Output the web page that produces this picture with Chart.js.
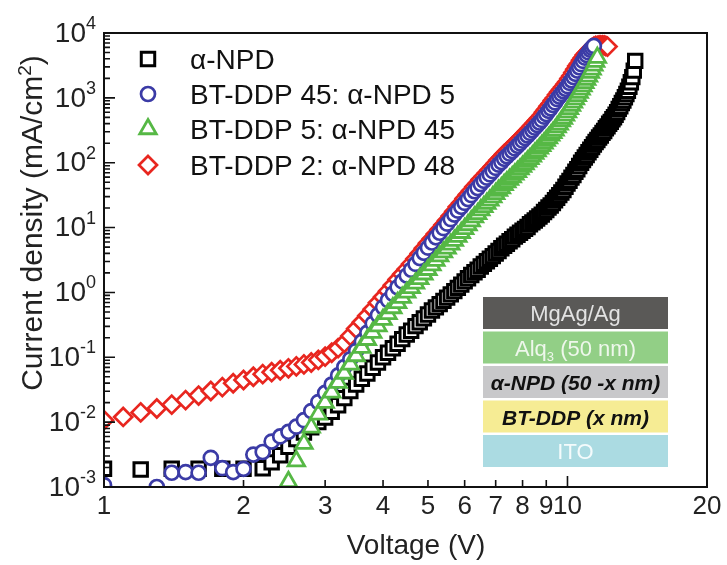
<!DOCTYPE html>
<html>
<head>
<meta charset="utf-8">
<script src="https://cdn.jsdelivr.net/npm/chart.js@4.4.1/dist/chart.umd.min.js"></script>
<style>
  html, body { margin: 0; padding: 0; background: #fff; }
  #jv { display: block; }
</style>
</head>
<body>
<canvas id="jv" width="727" height="565"></canvas>
<script>
// J-V curves on log-log axes. Current density stored as log10(J / mA cm^-2),
// one entry per voltage step, null where a sample is missing.
var seriesLabels = ['α-NPD', 'BT-DDP 45: α-NPD 5', 'BT-DDP 5: α-NPD 45', 'BT-DDP 2: α-NPD 48'];

var voltGrid = [
  1.0, 1.1, 1.2, 1.3, 1.4, 1.5, 1.6, 1.7, 1.8, 1.9,
  2.0, 2.1, 2.2, 2.3, 2.4, 2.5, 2.6, 2.7, 2.8, 2.9,
  3.0, 3.1, 3.2, 3.3, 3.4, 3.5, 3.6, 3.7, 3.8, 3.9,
  4.0, 4.1, 4.2, 4.3, 4.4, 4.5, 4.6, 4.7, 4.8, 4.9,
  5.0, 5.1, 5.2, 5.3, 5.4, 5.5, 5.6, 5.7, 5.8, 5.9,
  6.0, 6.1, 6.2, 6.3, 6.4, 6.5, 6.6, 6.7, 6.8, 6.9,
  7.0, 7.1, 7.2, 7.3, 7.4, 7.5, 7.6, 7.7, 7.8, 7.9,
  8.0, 8.1, 8.2, 8.3, 8.4, 8.5, 8.6, 8.7, 8.8, 8.9,
  9.0, 9.1, 9.2, 9.3, 9.4, 9.5, 9.6, 9.7, 9.8, 9.9,
  10.0, 10.1, 10.2, 10.3, 10.4, 10.5, 10.6, 10.7, 10.8, 10.9,
  11.0, 11.1, 11.2, 11.3, 11.4, 11.5, 11.6, 11.7, 11.8, 11.9,
  12.0, 12.1, 12.2, 12.3, 12.4, 12.5, 12.6, 12.7, 12.8, 12.9,
  13.0, 13.1, 13.2, 13.3, 13.4, 13.5, 13.6, 13.7, 13.8, 13.9,
  14.0
];

var npdLogJ = [
  -2.72, null, -2.73, null, -2.72, null, -2.72, null, -2.72, null,
  -2.72, null, -2.71, -2.62, -2.51, -2.38, -2.26, -2.16, -2.08, -2.00,
  -1.93, -1.84, -1.74, -1.63, -1.52, -1.42, -1.33, -1.25, -1.16, -1.08,
  -1.00, -0.93, -0.86, -0.79, -0.72, -0.65, -0.59, -0.52, -0.46, -0.40,
  -0.34, -0.28, -0.23, -0.18, -0.13, -0.08, -0.03, 0.02, 0.07, 0.12,
  0.17, 0.22, 0.27, 0.31, 0.35, 0.40, 0.44, 0.48, 0.52, 0.56,
  0.60, 0.64, 0.68, 0.72, 0.75, 0.79, 0.82, 0.86, 0.89, 0.92,
  0.95, 0.98, 1.01, 1.05, 1.08, 1.11, 1.14, 1.17, 1.20, 1.24,
  1.27, 1.31, 1.34, 1.38, 1.42, 1.46, 1.50, 1.54, 1.58, 1.63,
  1.68, 1.72, 1.77, 1.81, 1.86, 1.90, 1.95, 2.00, 2.04, 2.08,
  2.12, 2.16, 2.20, 2.24, 2.28, 2.32, 2.35, 2.39, 2.42, 2.46,
  2.49, 2.53, 2.56, 2.60, 2.63, 2.67, 2.70, 2.74, 2.78, 2.83,
  2.87, 2.92, 2.96, 3.01, 3.06, 3.11, 3.17, 3.24, 3.32, 3.42,
  3.57
];

var bt45LogJ = [
  -2.97, -3.20, -3.15, -3.00, -2.78, -2.77, -2.78, -2.55, -2.71, -2.77,
  -2.72, -2.50, -2.46, -2.30, -2.22, -2.15, -2.07, -1.97, -1.83, -1.69,
  -1.55, -1.42, -1.28, -1.15, -1.03, -0.90, -0.76, -0.62, -0.48, -0.35,
  -0.23, -0.12, -0.02, 0.08, 0.17, 0.26, 0.35, 0.44, 0.53, 0.61,
  0.69, 0.77, 0.85, 0.92, 0.99, 1.06, 1.13, 1.20, 1.26, 1.32,
  1.38, 1.44, 1.50, 1.56, 1.61, 1.67, 1.72, 1.77, 1.82, 1.87,
  1.92, 1.97, 2.01, 2.06, 2.10, 2.14, 2.18, 2.22, 2.26, 2.30,
  2.34, 2.38, 2.42, 2.46, 2.50, 2.54, 2.58, 2.62, 2.66, 2.71,
  2.75, 2.80, 2.84, 2.89, 2.93, 2.98, 3.02, 3.06, 3.10, 3.14,
  3.18, 3.23, 3.27, 3.32, 3.37, 3.42, 3.47, 3.52, 3.57, 3.62,
  3.66, 3.70, 3.74, 3.77, 3.80
];

var bt5LogJ = [
  null, null, null, null, null, null, null, null, null, null,
  null, null, null, null, null, -2.92, -2.60, -2.33, -2.08, -1.88,
  -1.70, -1.54, -1.39, -1.25, -1.11, -0.98, -0.85, -0.73, -0.62, -0.52,
  -0.42, -0.33, -0.24, -0.16, -0.08, 0.00, 0.07, 0.14, 0.21, 0.28,
  0.35, 0.42, 0.49, 0.56, 0.62, 0.68, 0.74, 0.80, 0.86, 0.92,
  0.98, 1.04, 1.10, 1.16, 1.21, 1.27, 1.32, 1.37, 1.42, 1.47,
  1.52, 1.57, 1.61, 1.66, 1.70, 1.74, 1.78, 1.82, 1.86, 1.90,
  1.94, 1.98, 2.02, 2.06, 2.10, 2.14, 2.18, 2.22, 2.26, 2.30,
  2.34, 2.38, 2.42, 2.46, 2.50, 2.55, 2.59, 2.64, 2.68, 2.73,
  2.78, 2.83, 2.88, 2.93, 2.98, 3.03, 3.08, 3.13, 3.18, 3.23,
  3.28, 3.33, 3.39, 3.44, 3.50, 3.56, 3.62
];

var bt2LogJ = [
  -1.97, -1.92, -1.85, -1.79, -1.73, -1.66, -1.59, -1.52, -1.46, -1.40,
  -1.35, -1.30, -1.26, -1.23, -1.20, -1.17, -1.14, -1.11, -1.08, -1.04,
  -0.99, -0.93, -0.86, -0.78, -0.67, -0.56, -0.46, -0.36, -0.26, -0.16,
  -0.07, 0.02, 0.11, 0.20, 0.28, 0.36, 0.44, 0.52, 0.60, 0.68,
  0.76, 0.83, 0.90, 0.97, 1.04, 1.11, 1.18, 1.25, 1.32, 1.38,
  1.45, 1.51, 1.57, 1.63, 1.68, 1.74, 1.79, 1.84, 1.89, 1.94,
  1.99, 2.04, 2.08, 2.13, 2.17, 2.21, 2.25, 2.29, 2.33, 2.37,
  2.41, 2.45, 2.49, 2.53, 2.57, 2.61, 2.65, 2.69, 2.73, 2.78,
  2.82, 2.87, 2.91, 2.96, 3.00, 3.05, 3.09, 3.13, 3.17, 3.21,
  3.25, 3.30, 3.34, 3.39, 3.44, 3.49, 3.53, 3.58, 3.62, 3.66,
  3.69, 3.72, 3.75, 3.77, 3.79, 3.80, 3.80, 3.81, 3.81, 3.81,
  3.81, 3.80, 3.79
];

// axis ticks
var voltTicks = [1, 2, 3, 4, 5, 6, 7, 8, 9, 10, 20];
var voltTickLabels = ['1', '2', '3', '4', '5', '6', '7', '8', '9', '10', '20'];
var decadeExps = [-3, -2, -1, 0, 1, 2, 3, 4];

var FONT = "'Liberation Sans', Arial, Helvetica, sans-serif";

// device stack drawn in the lower right corner
var stackLayers = [
  { parts: [['MgAg/Ag', 22, 0]], bg: '#5a5957', fg: '#e2e2e2', style: '' },
  { parts: [['Alq', 22, 0], ['3', 13, 5], [' (50 nm)', 22, 0]], bg: '#92cf86', fg: '#eef7eb', style: '' },
  { parts: [['α-NPD (50 -x nm)', 21, 0]], bg: '#c8c8ca', fg: '#111', style: 'italic bold ' },
  { parts: [['BT-DDP (x nm)', 21, 0]], bg: '#f6ec94', fg: '#111', style: 'italic bold ' },
  { parts: [['ITO', 22, 0]], bg: '#abdbe2', fg: '#f4fbfc', style: '' }
];

function toPoints(logJ) {
  var pts = [];
  var n = Math.min(voltGrid.length, logJ.length);
  for (var i = 0; i < n; i++) {
    if (logJ[i] === null) continue;
    pts.push({ x: voltGrid[i], y: Math.pow(10, logJ[i]) });
  }
  return pts;
}

function markerSet(label, data, style, radius, color, width, order) {
  return {
    label: label,
    data: data,
    showLine: false,
    pointStyle: style,
    pointRadius: radius,
    pointHoverRadius: radius,
    pointBorderWidth: width,
    pointBorderColor: color,
    pointBackgroundColor: '#fff',
    borderColor: color,
    backgroundColor: '#fff',
    order: order
  };
}

var datasets = [
  markerSet(seriesLabels[0], toPoints(npdLogJ), 'rect', 9.5, '#000000', 3, 3),
  markerSet(seriesLabels[1], toPoints(bt45LogJ), 'circle', 7, '#3b3ba6', 2.7, 1),
  markerSet(seriesLabels[2], toPoints(bt5LogJ), 'triangle', 9.5, '#56b845', 2.8, 0),
  markerSet(seriesLabels[3], toPoints(bt2LogJ), 'rectRot', 9, '#e8261f', 2.7, 2)
];

function drawMarker(ctx, style, x, y, r) {
  ctx.beginPath();
  if (style === 'rect') {
    var s = r * Math.SQRT1_2;
    ctx.rect(x - s, y - s, 2 * s, 2 * s);
  } else if (style === 'circle') {
    ctx.arc(x, y, r, 0, Math.PI * 2);
  } else if (style === 'triangle') {
    ctx.moveTo(x, y - r);
    ctx.lineTo(x + r * Math.sin(Math.PI * 2 / 3), y - r * Math.cos(Math.PI * 2 / 3));
    ctx.lineTo(x + r * Math.sin(Math.PI * 4 / 3), y - r * Math.cos(Math.PI * 4 / 3));
    ctx.closePath();
  } else {
    ctx.moveTo(x, y - r);
    ctx.lineTo(x + r, y);
    ctx.lineTo(x, y + r);
    ctx.lineTo(x - r, y);
    ctx.closePath();
  }
  ctx.fill();
  ctx.stroke();
}

var framePlugin = {
  id: 'frame',
  afterDatasetsDraw: function(chart) {
    var ctx = chart.ctx;
    var area = chart.chartArea;
    var xs = chart.scales.x;
    var ys = chart.scales.y;
    ctx.save();

    // box
    ctx.strokeStyle = '#111';
    ctx.lineWidth = 2;
    ctx.strokeRect(area.left, area.top, area.right - area.left, area.bottom - area.top);

    // inward ticks on the voltage axis
    ctx.lineWidth = 1.6;
    ctx.beginPath();
    voltTicks.forEach(function(v) {
      if (v === 1 || v === 20) return;
      var px = xs.getPixelForValue(v);
      var len = v === 10 ? 11 : 7;
      ctx.moveTo(px, area.bottom);
      ctx.lineTo(px, area.bottom - len);
    });
    // inward ticks on the current axis, decades and minors
    decadeExps.forEach(function(e) {
      var py = ys.getPixelForValue(Math.pow(10, e));
      ctx.moveTo(area.left, py);
      ctx.lineTo(area.left + 11, py);
      if (e < 4) {
        for (var m = 2; m <= 9; m++) {
          var pm = ys.getPixelForValue(m * Math.pow(10, e));
          ctx.moveTo(area.left, pm);
          ctx.lineTo(area.left + 6, pm);
        }
      }
    });
    ctx.stroke();

    // decade labels 10^n
    ctx.fillStyle = '#222';
    ctx.textBaseline = 'middle';
    decadeExps.forEach(function(e) {
      var py = ys.getPixelForValue(Math.pow(10, e));
      var expText = String(e);
      ctx.font = '18px ' + FONT;
      var ew = ctx.measureText(expText).width;
      var right = 96;
      ctx.textAlign = 'left';
      ctx.fillText(expText, right - ew, py - 9);
      ctx.font = '28px ' + FONT;
      ctx.textAlign = 'right';
      ctx.fillText('10', right - ew, py + 1);
    });

    // axis titles
    ctx.textBaseline = 'alphabetic';
    ctx.textAlign = 'center';
    ctx.font = '28px ' + FONT;
    ctx.fillText('Voltage (V)', 416, 554);

    ctx.save();
    ctx.translate(42, 223);
    ctx.rotate(-Math.PI / 2);
    ctx.textAlign = 'left';
    ctx.font = '30px ' + FONT;
    var t1 = 'Current density (mA/cm';
    var w1 = ctx.measureText(t1).width;
    ctx.font = '19px ' + FONT;
    var w2 = ctx.measureText('2').width;
    ctx.font = '30px ' + FONT;
    var w3 = ctx.measureText(')').width;
    var x0 = -(w1 + w2 + w3) / 2;
    ctx.fillText(t1, x0, 0);
    ctx.font = '19px ' + FONT;
    ctx.fillText('2', x0 + w1, -11);
    ctx.font = '30px ' + FONT;
    ctx.fillText(')', x0 + w1 + w2, 0);
    ctx.restore();

    // legend
    var legendY = [59, 94, 129, 165];
    chart.data.datasets.forEach(function(ds, i) {
      ctx.lineWidth = ds.pointBorderWidth;
      ctx.strokeStyle = ds.pointBorderColor;
      ctx.fillStyle = '#fff';
      drawMarker(ctx, ds.pointStyle, 148, legendY[i], ds.pointRadius);
      ctx.fillStyle = '#111';
      ctx.font = '28px ' + FONT;
      ctx.textAlign = 'left';
      ctx.textBaseline = 'alphabetic';
      ctx.fillText(ds.label, 190, legendY[i] + 10);
    });

    // device stack
    var sx = 483, sw = 185, sy = 297, sh = 32, gap = 2.5;
    stackLayers.forEach(function(layer, i) {
      var top = sy + i * (sh + gap);
      ctx.fillStyle = layer.bg;
      ctx.fillRect(sx, top, sw, sh);
      var total = 0;
      layer.parts.forEach(function(p) {
        ctx.font = layer.style + p[1] + 'px ' + FONT;
        total += ctx.measureText(p[0]).width;
      });
      var cx = sx + sw / 2 - total / 2;
      ctx.fillStyle = layer.fg;
      ctx.textAlign = 'left';
      ctx.textBaseline = 'alphabetic';
      layer.parts.forEach(function(p) {
        ctx.font = layer.style + p[1] + 'px ' + FONT;
        ctx.fillText(p[0], cx, top + sh / 2 + 8 + p[2]);
        cx += ctx.measureText(p[0]).width;
      });
    });

    ctx.restore();
  }
};

Chart.defaults.font.family = FONT;

new Chart(document.getElementById('jv').getContext('2d'), {
  type: 'scatter',
  data: { datasets: datasets },
  options: {
    responsive: false,
    animation: false,
    devicePixelRatio: 1,
    layout: { padding: { top: 33, right: 20, left: 0, bottom: 0 } },
    plugins: {
      legend: { display: false },
      tooltip: { enabled: false }
    },
    scales: {
      x: {
        type: 'logarithmic',
        min: 1,
        max: 20,
        afterBuildTicks: function(scale) {
          scale.ticks = voltTicks.map(function(v) { return { value: v }; });
        },
        afterFit: function(scale) { scale.height = 78; },
        grid: { display: false, drawTicks: false },
        border: { display: false },
        ticks: {
          autoSkip: false,
          maxRotation: 0,
          padding: 4,
          color: '#222',
          font: { size: 26 },
          callback: function(value, index) { return voltTickLabels[index]; }
        }
      },
      y: {
        type: 'logarithmic',
        min: 1e-3,
        max: 1e4,
        afterFit: function(scale) { scale.width = 104; },
        grid: { display: false, drawTicks: false },
        border: { display: false },
        ticks: { display: false }
      }
    }
  },
  plugins: [framePlugin]
});
</script>
</body>
</html>
